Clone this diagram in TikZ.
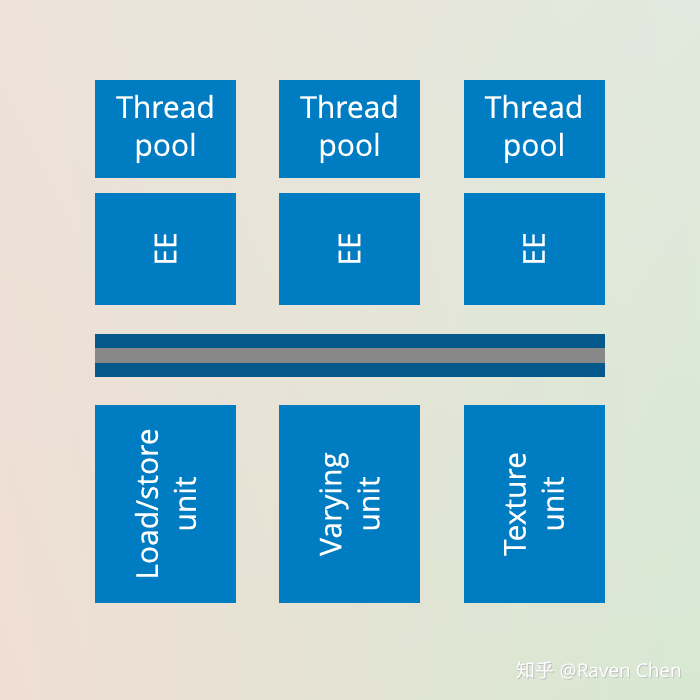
\documentclass[tikz,border=0pt]{standalone}
\usepackage{fontspec}
\setmainfont{Open Sans}
\newfontfamily\cjkfont{Noto Sans CJK SC}
\newfontfamily\unitfont{Open Sans}[FakeBold=0.5]
\usepackage{tikz}
\usetikzlibrary{shadings}
\definecolor{unitblue}{RGB}{0,124,194}
\definecolor{busblue}{RGB}{4,88,138}
\definecolor{busgray}{RGB}{136,136,136}
\definecolor{bgTL}{RGB}{236,226,216}
\definecolor{bgTR}{RGB}{226,233,222}
\definecolor{bgBL}{RGB}{240,222,212}
\definecolor{bgBR}{RGB}{214,232,210}
\tikzset{
  unitbox/.style={rectangle, fill=unitblue, draw=none, text=white,
              inner sep=0pt, align=center,
              font=\unitfont\fontsize{30}{38}\selectfont},
  poolbox/.style={unitbox, minimum width=141pt, minimum height=98pt},
  eebox/.style={unitbox, rotate=90, minimum width=112pt, minimum height=141pt},
  funcbox/.style={unitbox, rotate=90, minimum width=198pt, minimum height=141pt},
  busline/.style={rectangle, draw=none, inner sep=0pt,
              minimum width=510pt, minimum height=14.4pt},
  wmtext/.style={font=\fontsize{19}{22}\selectfont, inner sep=0pt, anchor=east}
}
\begin{document}
\begin{tikzpicture}[x=1pt,y=-1pt]
  % background
  \shade[upper left=bgTL, upper right=bgTR, lower left=bgBL, lower right=bgBR]
    (0,0) rectangle (700,700);
  \useasboundingbox (0,0) rectangle (700,700);
  % thread pools
  \node[poolbox] (tp1) at (165.5,129) {Thread\\pool};
  \node[poolbox] (tp2) at (349.5,129) {Thread\\pool};
  \node[poolbox] (tp3) at (534,129) {Thread\\pool};
  % execution engines
  \node[eebox] (ee1) at (165.5,249) {EE};
  \node[eebox] (ee2) at (349.5,249) {EE};
  \node[eebox] (ee3) at (534,249) {EE};
  % bus
  \node[busline, fill=busblue] (busA) at (350,341.2) {};
  \node[busline, fill=busgray] (busB) at (350,355.6) {};
  \node[busline, fill=busblue] (busC) at (350,370) {};
  % fixed function units
  \node[funcbox] (ls) at (165.5,504) {Load/store\\unit};
  \node[funcbox] (vary) at (349.5,504) {Varying\\unit};
  \node[funcbox] (tex) at (534,504) {Texture\\unit};
  % watermark
  \node[wmtext, text=black!25] (wmS) at (683,671) {{\cjkfont 知乎} @Raven Chen};
  \node[wmtext, text=white] (wm) at (682,670) {{\cjkfont 知乎} @Raven Chen};
\end{tikzpicture}
\end{document}
